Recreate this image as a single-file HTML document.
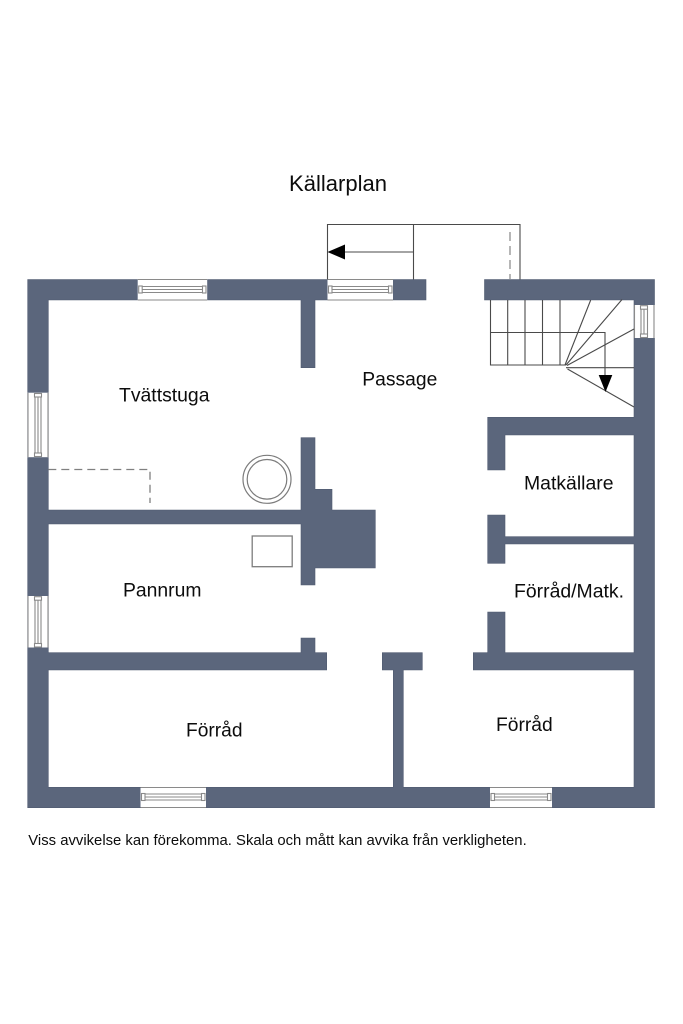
<!DOCTYPE html>
<html>
<head>
<meta charset="utf-8">
<style>
html,body{margin:0;padding:0;background:#fff;width:683px;height:1024px;overflow:hidden}
svg{display:block;filter:blur(0.3px)}
text{font-family:"Liberation Sans",Arial,sans-serif;fill:#0c0c0c}
.w{fill:#5b667c;stroke:#505b71;stroke-width:.6}
.l{stroke:#4a4a4a;stroke-width:1.1;fill:none}
.g{stroke:#7c7c7c;stroke-width:1.2;fill:none}
.d{stroke:#808080;stroke-width:1.3;fill:none;stroke-dasharray:8 5}
.win{fill:#fff;stroke:none}
.wl{stroke:#8a8a8a;stroke-width:1.1;fill:none}
</style>
</head>
<body>
<svg width="683" height="1024" viewBox="0 0 683 1024" xmlns="http://www.w3.org/2000/svg">
<rect width="683" height="1024" fill="#fff"/>

<!-- outer door / entrance -->
<path class="l" d="M327.5 279.5V224.5H520V279.5M413.5 224.5V279.5M345 252H413.5" stroke="#666"/>
<path d="M327.5 252L345 244.5V259.5Z" fill="#000"/>
<path d="M510 232V279" stroke="#909090" stroke-width="1.3" fill="none" stroke-dasharray="9 5"/>

<!-- walls -->
<path class="w" d="M27.7 279.5H426V300H315V367.7H301V300H48.3V510H301V437.7H315V489.3H332V510H375.3V568H315V585H301V524H48.3V652.7H301V638H315V652.7H326.7V670H48.3V787.3H393.3V670H382.3V652.7H422.3V670H403.3V787.3H634V670H473.3V652.7H487.7V612H505V652.7H634V544H505V563.3H487.7V515H505V536.7H634V435H505V470H487.7V417.3H634V300H484.5V279.5H654.5V807.7H27.7Z"/>

<!-- top windows -->
<rect class="win" x="137.7" y="279" width="69.5" height="21.5"/>
<path class="wl" d="M137.7 279.5H207.2M137.7 300H207.2M142 286.5H203M142 292.5H203M142 289.5H203"/>
<rect class="wl" x="138.7" y="286" width="3.5" height="7"/><rect class="wl" x="202.5" y="286" width="3.5" height="7"/>

<rect class="win" x="327.5" y="279" width="65.5" height="21.5"/>
<path class="wl" d="M327.5 279.5H393M327.5 300H393M332 286.5H389M332 292.5H389M332 289.5H389"/>
<rect class="wl" x="328.5" y="286" width="3.5" height="7"/><rect class="wl" x="388.5" y="286" width="3.5" height="7"/>

<!-- bottom windows -->
<rect class="win" x="140.5" y="787" width="65.5" height="21"/>
<path class="wl" d="M140.5 787.5H206M140.5 807.5H206M145 794H202M145 800H202M145 797H202"/>
<rect class="wl" x="141.5" y="793.5" width="3.5" height="7"/><rect class="wl" x="201.5" y="793.5" width="3.5" height="7"/>

<rect class="win" x="490" y="787" width="62" height="21"/>
<path class="wl" d="M490 787.5H552M490 807.5H552M494.5 794H548M494.5 800H548M494.5 797H548"/>
<rect class="wl" x="491" y="793.5" width="3.5" height="7"/><rect class="wl" x="547.5" y="793.5" width="3.5" height="7"/>

<!-- left windows -->
<rect class="win" x="27.5" y="392.7" width="21" height="64.5"/>
<path class="wl" d="M28 392.7V457.2M48 392.7V457.2M35 397V453M41 397V453M38 397V453"/>
<rect class="wl" x="34.5" y="393.5" width="7" height="3.5"/><rect class="wl" x="34.5" y="453" width="7" height="3.5"/>

<rect class="win" x="27.5" y="596" width="21" height="51.5"/>
<path class="wl" d="M28 596V647.5M48 596V647.5M35 600V644M41 600V644M38 600V644"/>
<rect class="wl" x="34.5" y="596.7" width="7" height="3.5"/><rect class="wl" x="34.5" y="643.5" width="7" height="3.5"/>

<!-- right window -->
<rect class="win" x="634" y="305" width="21" height="33"/>
<path class="wl" d="M634.5 305V338M654 305V338M641 309V334M647.5 309V334M644 309V334"/>
<rect class="wl" x="640.5" y="305.7" width="7" height="3.5"/><rect class="wl" x="640.5" y="334" width="7" height="3.5"/>

<!-- stairs -->
<path class="l" d="M490.5 300V365H566M507.7 300V365M525 300V365M542.5 300V365M560 300V365M490.5 332.5H605V376M565 365L590.7 300M566 365L622 299.5M567 365.5L634 329M566 367.7H634M567.5 369L634 407"/>
<path d="M598.7 375H612.3L605.5 392Z" fill="#000"/>

<!-- fixtures -->
<path class="d" d="M48.3 469.5H150V503"/>
<circle class="g" cx="267" cy="479.3" r="24"/>
<circle class="g" cx="267" cy="479.3" r="19.8"/>
<rect x="252.2" y="536" width="40" height="30.7" fill="#fff" stroke="#7c7c7c" stroke-width="1.3"/>

<!-- labels -->
<text x="289" y="191" font-size="22" textLength="98" lengthAdjust="spacingAndGlyphs">Källarplan</text>
<text x="119" y="401.7" font-size="19.4" textLength="90.5" lengthAdjust="spacingAndGlyphs">Tvättstuga</text>
<text x="362.3" y="385.7" font-size="19.3" textLength="75" lengthAdjust="spacingAndGlyphs">Passage</text>
<text x="123" y="596.7" font-size="19.3" textLength="78.5" lengthAdjust="spacingAndGlyphs">Pannrum</text>
<text x="186" y="736.7" font-size="19.3" textLength="56.5" lengthAdjust="spacingAndGlyphs">Förråd</text>
<text x="524" y="489.3" font-size="19.3" textLength="89.5" lengthAdjust="spacingAndGlyphs">Matkällare</text>
<text x="514" y="597.7" font-size="19.3" textLength="110" lengthAdjust="spacingAndGlyphs">Förråd/Matk.</text>
<text x="496" y="731" font-size="19.3" textLength="56.7" lengthAdjust="spacingAndGlyphs">Förråd</text>
<text x="28.3" y="845" font-size="14.85" textLength="498.4" lengthAdjust="spacingAndGlyphs">Viss avvikelse kan förekomma. Skala och mått kan avvika från verkligheten.</text>
</svg>
</body>
</html>
